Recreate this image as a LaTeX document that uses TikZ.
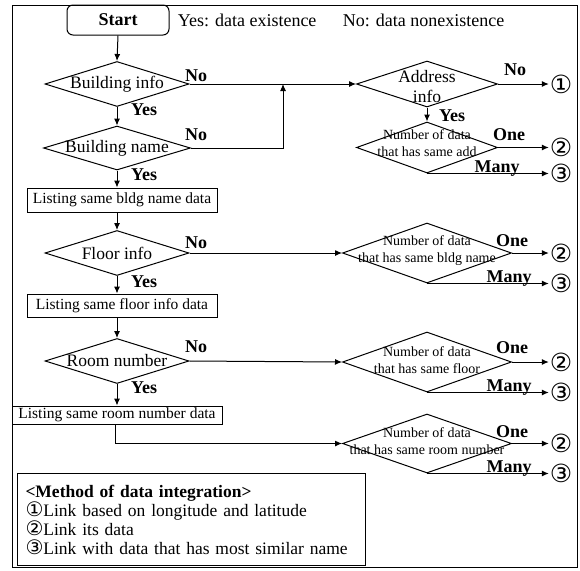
\documentclass[tikz,border=0pt]{standalone}
\usepackage{fontspec}
\usepackage{tikz}
\usetikzlibrary{shapes.geometric,arrows.meta}

\setmainfont{Liberation Serif}
\newfontfamily\circfont{DejaVu Sans}

\newcommand{\mainfs}{\fontsize{17.5}{20}\selectfont}
\newcommand{\boxfs}{\fontsize{15.5}{18}\selectfont}
\newcommand{\smallfs}{\fontsize{14}{17}\selectfont}
\newcommand{\ansfs}{\fontsize{18}{20}\bfseries\selectfont}
\newcommand{\circfs}{\fontsize{25}{25}\circfont\selectfont}
\newcommand{\legcirc}{\circfont\fontsize{20}{19}\selectfont}

\tikzset{
	decision/.style={draw, diamond, inner sep=0pt, minimum width=144, minimum height=45},
	countdec/.style={draw, diamond, inner sep=0pt, minimum width=169, minimum height=60},
	listbox/.style={draw, inner sep=0pt, font=\boxfs, minimum height=23},
	ans/.style={font=\ansfs, inner sep=0pt},
	linkmark/.style={font=\circfs, inner sep=0.5pt},
	flow/.style={-{Latex[length=7pt,width=6pt]}}
}

\begin{document}
\begin{tikzpicture}[x=1pt,y=-1pt,line width=1pt]

	\useasboundingbox (0,0) rectangle (580,570);
	\draw[line width=0.9pt] (12,5) rectangle (577,567);

	% start and legend of Yes/No
	\node[draw, rounded corners=6, minimum width=102, minimum height=30, font=\ansfs] (start) at (118,20) {Start};
	\node[anchor=west, font=\fontsize{18}{20}\selectfont] (yeskey) at (174,20) {Yes: data existence};
	\node[anchor=west, font=\fontsize{18}{20}\selectfont] (nokey) at (339,20) {No: data nonexistence};

	% main column
	\node[decision] (bi) at (117,84) {};
	\node[font=\mainfs] at (bi) {Building info};
	\node[decision, minimum width=147, minimum height=44] (bn) at (117,148) {};
	\node[font=\mainfs] at (bn) {Building name};
	\node[listbox, minimum width=190, minimum height=24] (lb) at (122,200) {Listing same bldg name data};
	\node[decision] (fi) at (117,253) {};
	\node[font=\mainfs] at (fi) {Floor info};
	\node[listbox, minimum width=190] (lf) at (122,305.5) {Listing same floor info data};
	\node[decision] (rn) at (117,361) {};
	\node[font=\mainfs] at (rn) {Room number};
	\node[listbox, minimum width=210, minimum height=18] (lr) at (117,415) {Listing same room number data};

	\draw[flow] (start.south) -- (bi.north);
	\draw[flow] (bi.south) -- (bn.north);
	\draw[flow] (bn.south) -- (bn.south |- lb.north);
	\draw[flow] (bn.south |- lb.south) -- (fi.north);
	\draw[flow] (fi.south) -- (fi.south |- lf.north);
	\draw[flow] (fi.south |- lf.south) -- (rn.north);
	\draw[flow] (rn.south) -- (lr.north);

	\node[ans] at (144,110) {Yes};
	\node[ans] at (144,175) {Yes};
	\node[ans] at (144,282) {Yes};
	\node[ans] at (144,388) {Yes};
	\node[ans] at (196,76) {No};
	\node[ans] at (196,135) {No};
	\node[ans] at (196,243) {No};
	\node[ans] at (196,347) {No};

	% right column
	\node[decision, minimum width=141, minimum height=46] (ad) at (427,84) {};
	\node[font=\mainfs, align=center, yshift=-3] at (ad) {Address\\info};
	\node[decision, minimum width=141, minimum height=51] (na) at (427,147.5) {};
	\node[font=\smallfs, align=center, yshift=4] at (na) {Number of data\\that has same add};
	\node[countdec] (nb) at (427,253) {};
	\node[font=\smallfs, align=center, yshift=2] at (nb) {Number of data\\that has same bldg name};
	\node[countdec] (nf) at (427,362) {};
	\node[font=\smallfs, align=center, yshift=2] at (nf) {Number of data\\that has same floor};
	\node[countdec, minimum height=59] (nr) at (427,443.5) {};
	\node[font=\smallfs, align=center, yshift=2] at (nr) {Number of data\\that has same room number};

	\coordinate (join) at (283,84);
	\draw[flow] (bi.east) -- (ad.west);
	\draw[flow] (bn.east) -| (join);
	\draw[flow] (fi.east) -- (nb.west);
	\draw[flow] (rn.east) -- (nf.west);
	\draw[flow] ([xshift=-2]lr.south) |- (nr.west);
	\draw[flow] (ad.south) -- (na.north);

	% integration methods
	\node[linkmark] (m1) at (561,84) {①};
	\node[linkmark] (ma2) at (561,147.5) {②};
	\node[linkmark] (ma3) at (561,173) {③};
	\node[linkmark] (mb2) at (561,253) {②};
	\node[linkmark] (mb3) at (561,283) {③};
	\node[linkmark] (mf2) at (561,362) {②};
	\node[linkmark] (mf3) at (561,392) {③};
	\node[linkmark] (mr2) at (561,443.5) {②};
	\node[linkmark] (mr3) at (561,473) {③};

	\draw[flow] (ad.east) -- (m1.west);
	\draw[flow] (na.east) -- (ma2.west);
	\draw[flow] (na.south) -- (na.south -| ma3.west);
	\draw[flow] (nb.east) -- (mb2.west);
	\draw[flow] (nb.south) -- (nb.south -| mb3.west);
	\draw[flow] (nf.east) -- (mf2.west);
	\draw[flow] (nf.south) -- (nf.south -| mf3.west);
	\draw[flow] (nr.east) -- (mr2.west);
	\draw[flow] (nr.south) -- (nr.south -| mr3.west);

	\node[ans] at (515,70) {No};
	\node[ans] at (452,116) {Yes};
	\node[ans] at (509,135) {One};
	\node[ans] at (512,241) {One};
	\node[ans] at (512,348) {One};
	\node[ans] at (512,432) {One};
	\node[ans, anchor=base] at (497,172) {Many};
	\node[ans, anchor=base] at (509,282) {Many};
	\node[ans, anchor=base] at (509,391) {Many};
	\node[ans, anchor=base] at (509,472) {Many};

	% legend of the methods
	\node[draw, anchor=north west, minimum width=348, minimum height=92, inner xsep=8pt,
		text width=332, align=left, font=\fontsize{17.5}{19}\selectfont] (legend) at (17,473)
		{\textbf{<Method of data integration>}\\
		{\legcirc ①}Link based on longitude and latitude\\
		{\legcirc ②}Link its data\\
		{\legcirc ③}Link with data that has most similar name};

\end{tikzpicture}
\end{document}
